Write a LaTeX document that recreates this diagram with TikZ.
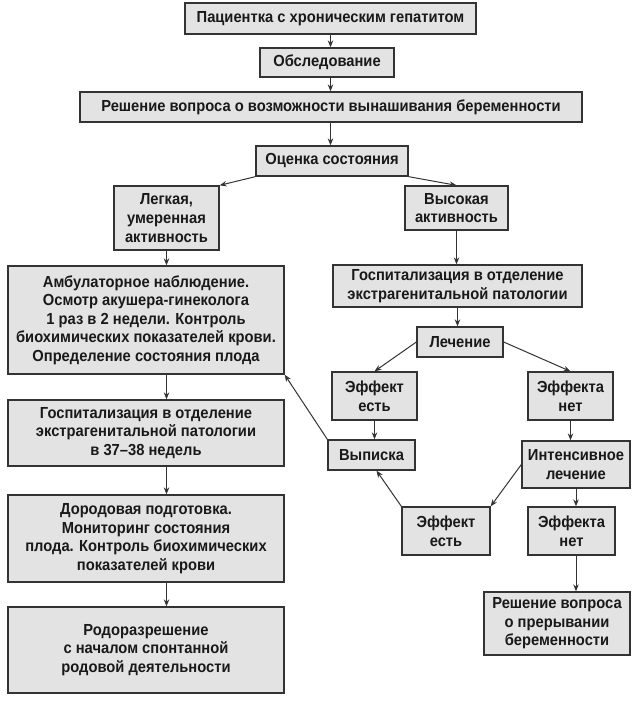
\documentclass[tikz,border=0pt]{standalone}
\usepackage{fontspec}
\setmainfont{Liberation Sans}[FakeStretch=0.92]
\usetikzlibrary{arrows.meta}

\tikzset{
  blk/.style={draw=black!80, fill=black!11, line width=1.3pt, inner sep=2pt,
    align=center, text=black!90, font=\fontsize{16}{18.6}\selectfont\bfseries},
  arr/.style={-{Stealth[length=7pt,width=5.5pt]}, line width=1pt, draw=black!80}
}

\begin{document}
\begin{tikzpicture}[x=1pt,y=-1pt]
\useasboundingbox (0,0) rectangle (640,701);

% main column
\node[blk, minimum width=291pt, minimum height=31pt] (pat) at (330.5,18.5) {Пациентка с хроническим гепатитом};
\node[blk, minimum width=134pt, minimum height=29pt] (obs) at (327,62.5) {Обследование};
\node[blk, minimum width=502pt, minimum height=30pt] (resh) at (331,107) {Решение вопроса о возможности вынашивания беременности};
\node[blk, minimum width=152pt, minimum height=30pt] (ocen) at (332,161) {Оценка состояния};

% left branch
\node[blk, minimum width=105pt, minimum height=64pt] (legk) at (166.5,218) {Легкая,\\умеренная\\активность};
\node[blk, minimum width=276pt, minimum height=108pt] (amb) at (146,320) {Амбулаторное наблюдение.\\Осмотр акушера-гинеколога\\1 раз в 2 недели. Контроль\\биохимических показателей крови.\\Определение состояния плода};
\node[blk, minimum width=276pt, minimum height=66pt] (gospa) at (146,433) {Госпитализация в отделение\\экстрагенитальной патологии\\в 37–38 недель};
\node[blk, minimum width=276pt, minimum height=87pt] (dor) at (146,538.5) {Дородовая подготовка.\\Мониторинг состояния\\плода. Контроль биохимических\\показателей крови};
\node[blk, minimum width=276pt, minimum height=86pt] (rod) at (146,650) {Родоразрешение\\с началом спонтанной\\родовой деятельности};

% right branch
\node[blk, minimum width=103pt, minimum height=44pt] (vys) at (456.5,208) {Высокая\\активность};
\node[blk, minimum width=249pt, minimum height=42pt] (gospb) at (457.5,286) {Госпитализация в отделение\\экстрагенитальной патологии};
\node[blk, minimum width=86pt, minimum height=30pt] (lech) at (460,342) {Лечение};
\node[blk, minimum width=85pt, minimum height=48pt] (efya) at (374.5,396) {Эффект\\есть};
\node[blk, minimum width=85pt, minimum height=48pt] (efna) at (570.5,396) {Эффекта\\нет};
\node[blk, minimum width=87pt, minimum height=30pt] (vyp) at (371.5,455) {Выписка};
\node[blk, minimum width=108pt, minimum height=47pt] (int) at (576,464.5) {Интенсивное\\лечение};
\node[blk, minimum width=88pt, minimum height=48pt] (efyb) at (446,531) {Эффект\\есть};
\node[blk, minimum width=87pt, minimum height=48pt] (efnb) at (571.5,531) {Эффекта\\нет};
\node[blk, minimum width=146pt, minimum height=63pt] (resb) at (557,623.5) {Решение вопроса\\о прерывании\\беременности};

% arrows
\draw[arr] (pat.south) -- (pat.south |- obs.north);
\draw[arr] (obs.south -| pat) -- (resh.north -| pat);
\draw[arr] (resh.south -| pat) -- (ocen.north -| pat);
\draw[arr] (ocen.south west) -- (legk.north east);
\draw[arr] (ocen.south east) -- (vys.north);
\draw[arr] (legk.south) -- (legk.south |- amb.north);
\draw[arr] (amb.south -| legk) -- (gospa.north -| legk);
\draw[arr] (gospa.south -| legk) -- (dor.north -| legk);
\draw[arr] (dor.south -| legk) -- (rod.north -| legk);
\draw[arr] (vys.south) -- (vys.south |- gospb.north);
\draw[arr] (gospb.south) -- (gospb.south |- lech.north);
\draw[arr] (lech.west) -- (efya.north);
\draw[arr] (lech.east) -- (efna.north);
\draw[arr] (efya.south) -- (efya.south |- vyp.north);
\draw[arr] (efna.south) -- (efna.south |- int.north);
\draw[arr] (int.south) -- (int.south |- efnb.north);
\draw[arr] (efnb.south -| int) -- (resb.north -| int);
\draw[arr] (int.west) -- (efyb.north east);
\draw[arr] (efyb.north west) -- ([xshift=5pt]vyp.south);
\draw[arr] (vyp.north west) -- (amb.south east);
\end{tikzpicture}
\end{document}
